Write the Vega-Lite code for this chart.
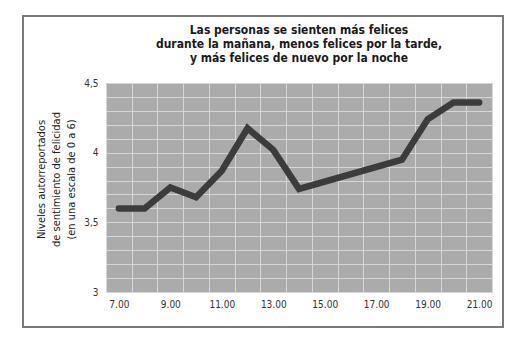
{
  "$schema": "https://vega.github.io/schema/vega-lite/v6.json",
  "width": 386,
  "height": 209,
  "autosize": {"type": "none"},
  "padding": {"left": 106, "top": 83, "right": 37, "bottom": 53},
  "background": "white",
  "config": {
    "view": {"fill": "#ababab", "stroke": null},
    "font": "DejaVu Sans Condensed, Liberation Sans, sans-serif"
  },
  "title": {
    "text": ["Las personas se sienten más felices", "durante la mañana, menos felices por la tarde,", "y más felices de nuevo por la noche"],
    "font": "DejaVu Sans Condensed, Liberation Sans, sans-serif",
    "fontSize": 12,
    "fontWeight": "bold",
    "color": "#1a1a1a",
    "anchor": "middle",
    "frame": "group",
    "lineHeight": 14,
    "offset": 0,
    "dy": 50
  },
  "resolve": {"axis": {"x": "independent", "y": "independent"}},
  "layer": [
    {
      "data": {"values": [
        {"hora": 7, "felicidad": 3.6},
        {"hora": 8, "felicidad": 3.6},
        {"hora": 9, "felicidad": 3.75},
        {"hora": 10, "felicidad": 3.68},
        {"hora": 11, "felicidad": 3.87},
        {"hora": 12, "felicidad": 4.175},
        {"hora": 13, "felicidad": 4.02},
        {"hora": 14, "felicidad": 3.74},
        {"hora": 18, "felicidad": 3.95},
        {"hora": 19, "felicidad": 4.24},
        {"hora": 20, "felicidad": 4.36},
        {"hora": 21, "felicidad": 4.36}
      ]},
      "mark": {"type": "line", "color": "#3c3c3c", "strokeWidth": 6.5, "strokeJoin": "miter", "strokeCap": "round"},
      "encoding": {
        "x": {
          "field": "hora", "type": "quantitative",
          "scale": {"domain": [6.5, 21.5], "nice": false, "zero": false},
          "axis": {
            "orient": "bottom",
            "title": null,
            "values": [6.5, 7, 7.5, 8.5, 9, 9.5, 10.5, 11, 11.5, 12.5, 13, 13.5, 14.5, 15, 15.5, 16.5, 17, 17.5, 18.5, 19, 19.5, 20.5, 21, 21.5],
            "labelExpr": "datum.value % 2 == 1 ? datum.value + '.00' : ''",
            "labelOverlap": false,
            "labelFontSize": 10,
            "labelColor": "#333333",
            "labelPadding": 7,
            "labelFlush": false,
            "domain": false,
            "ticks": false,
            "grid": true,
            "gridColor": "#d6d6d6",
            "gridWidth": 1,
            "gridOpacity": {"condition": {"test": "datum.value % 1 == 0", "value": 0}, "value": 1}
          }
        },
        "y": {
          "field": "felicidad", "type": "quantitative",
          "scale": {"domain": [3, 4.5], "nice": false, "zero": false},
          "axis": {
            "orient": "left",
            "title": ["Niveles autorreportados", "de sentimiento de felicidad", "(en una escala de 0 a 6)"],
            "titleFont": "DejaVu Sans Condensed, Liberation Sans, sans-serif",
            "titleFontSize": 11,
            "titleFontWeight": "normal",
            "titleColor": "#222222",
            "titleLineHeight": 15,
            "titlePadding": 7,
            "titleY": 96,
            "values": [3, 3.1, 3.2, 3.3, 3.4, 3.5, 3.6, 3.7, 3.8, 3.9, 4, 4.1, 4.2, 4.3, 4.4, 4.5],
            "labelExpr": "round(datum.value * 10) % 5 == 0 ? replace(format(datum.value, '.1~f'), '.', ',') : ''",
            "labelOverlap": false,
            "labelFontSize": 10,
            "labelColor": "#333333",
            "labelPadding": 8,
            "labelFlush": false,
            "domain": false,
            "ticks": false,
            "grid": true,
            "gridColor": "#d6d6d6",
            "gridWidth": 1
          }
        }
      }
    },
    {
      "data": {"values": [{"marco": "borde"}]},
      "mark": {"type": "rect", "fill": null, "stroke": "#7a7a7a", "strokeWidth": 2},
      "encoding": {
        "x": {"datum": 3.275, "type": "quantitative", "axis": null},
        "x2": {"datum": 21.928},
        "y": {"datum": 4.981, "type": "quantitative", "axis": null},
        "y2": {"datum": 2.749}
      }
    }
  ]
}
